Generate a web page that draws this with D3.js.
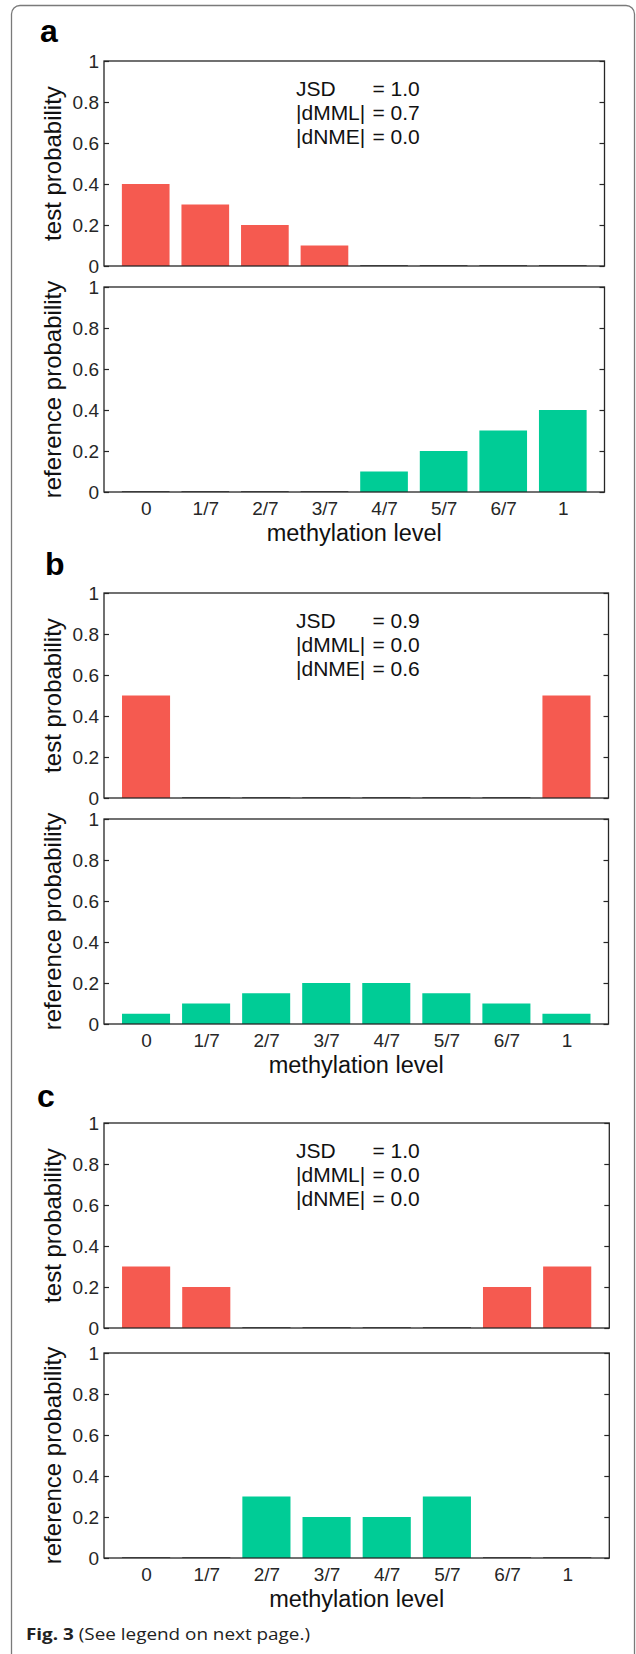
<!DOCTYPE html>
<html>
<head>
<meta charset="utf-8">
<script src="https://cdn.jsdelivr.net/npm/d3@7"></script>
<style>
  body { margin: 0; background: #fff; }
  svg { display: block; }
</style>
</head>
<body>
<svg id="fig" width="636" height="1654"></svg>
<script>
// methylation levels (x categories)
const levels = ["0", "1/7", "2/7", "3/7", "4/7", "5/7", "6/7", "1"];
const yTicks = [0, 0.2, 0.4, 0.6, 0.8, 1];
const yTickLabels = ["0", "0.2", "0.4", "0.6", "0.8", "1"];

// panel a
const testA = [0.4, 0.3, 0.2, 0.1, 0, 0, 0, 0];
const refA  = [0, 0, 0, 0, 0.1, 0.2, 0.3, 0.4];
// panel b
const testB = [0.5, 0, 0, 0, 0, 0, 0, 0.5];
const refB  = [0.05, 0.1, 0.15, 0.2, 0.2, 0.15, 0.1, 0.05];
// panel c
const testC = [0.3, 0.2, 0, 0, 0, 0, 0.2, 0.3];
const refC  = [0, 0, 0.3, 0.2, 0.2, 0.3, 0, 0];

const panelLabels = ["a", "b", "c"];
const jsd  = ["1.0", "0.9", "1.0"];
const dMML = ["0.7", "0.0", "0.0"];
const dNME = ["0.0", "0.6", "0.0"];

const testColor = "#f55a50";
const refColor = "#00cc96";
const axisColor = "#262626";
const font = "'Liberation Sans', Arial, Helvetica, sans-serif";

// layout of each panel (pixel positions)
const layout = [
  {lx: 40, ly: 42,   testTop: 61,   refTop: 287,  right: 604.5},
  {lx: 45, ly: 575,  testTop: 593,  refTop: 819,  right: 608.5},
  {lx: 37, ly: 1107, testTop: 1123, refTop: 1353, right: 609.3}
];
const left = 104, plotH = 205;

const svg = d3.select("#fig");

// outer page frame (open at the bottom)
svg.append("path")
  .attr("d", "M11.5,1660 V14 A8.5,8.5 0 0 1 20,5.5 H626 A8.5,8.5 0 0 1 634.5,14 V1660")
  .attr("fill", "none")
  .attr("stroke", "#7a7a7a")
  .attr("stroke-width", 1.3);

const tests = [testA, testB, testC];
const refs = [refA, refB, refC];

function drawPlot(parent, values, top, right, color, ylabel, showX) {
  const g = parent.append("g");
  const x = d3.scaleLinear().domain([0.3, 8.7]).range([left, right]);
  const y = d3.scaleLinear().domain([0, 1]).range([top + plotH, top]);
  const bw = (x(1.8) - x(1));

  g.selectAll("rect.bar")
    .data(values)
    .enter()
    .append("rect")
    .attr("class", "bar")
    .attr("x", (d, i) => x(i + 1) - bw / 2)
    .attr("width", bw)
    .attr("y", d => d > 0 ? y(d) : y(0) - 1)
    .attr("height", d => d > 0 ? y(0) - y(d) : 1)
    .attr("fill", d => d > 0 ? color : "#666");

  // box
  g.append("rect")
    .attr("x", left).attr("y", top)
    .attr("width", right - left).attr("height", plotH)
    .attr("fill", "none")
    .attr("stroke", axisColor)
    .attr("stroke-width", 1.3);

  const yl = g.append("g")
    .attr("transform", `translate(${left},0)`)
    .call(d3.axisLeft(y).tickValues(yTicks)
      .tickFormat((d, i) => yTickLabels[i])
      .tickSizeInner(-5).tickSizeOuter(0).tickPadding(5));
  yl.select(".domain").remove();
  yl.selectAll("line").attr("stroke", axisColor).attr("stroke-width", 1.2);
  yl.selectAll("text").attr("font-family", font).attr("font-size", 19).attr("fill", axisColor);

  const yr = g.append("g")
    .attr("transform", `translate(${right},0)`)
    .call(d3.axisRight(y).tickValues(yTicks).tickFormat("")
      .tickSizeInner(-5).tickSizeOuter(0));
  yr.select(".domain").remove();
  yr.selectAll("line").attr("stroke", axisColor).attr("stroke-width", 1.2);

  g.append("text")
    .attr("transform", `translate(61,${top + plotH / 2}) rotate(-90)`)
    .attr("text-anchor", "middle")
    .attr("font-family", font)
    .attr("font-size", 24)
    .attr("fill", "#111")
    .text(ylabel);

  if (showX) {
    const xa = g.append("g")
      .attr("transform", `translate(0,${top + plotH})`)
      .call(d3.axisBottom(x).tickValues(d3.range(1, 9))
        .tickFormat(i => levels[i - 1])
        .tickSize(0).tickPadding(10));
    xa.select(".domain").remove();
    xa.selectAll("text").attr("font-family", font).attr("font-size", 19).attr("fill", axisColor);

    g.append("text")
      .attr("x", (left + right) / 2)
      .attr("y", top + plotH + 49)
      .attr("text-anchor", "middle")
      .attr("font-family", font)
      .attr("font-size", 23.5)
      .attr("fill", "#111")
      .text("methylation level");
  }
}

layout.forEach((p, k) => {
  const g = svg.append("g");

  g.append("text")
    .attr("x", p.lx).attr("y", p.ly)
    .attr("font-family", font)
    .attr("font-weight", "bold")
    .attr("font-size", 32)
    .text(panelLabels[k]);

  drawPlot(g, tests[k], p.testTop, p.right, testColor, "test probability", false);
  drawPlot(g, refs[k], p.refTop, p.right, refColor, "reference probability", true);

  const rows = [["JSD", jsd[k]], ["|dMML|", dMML[k]], ["|dNME|", dNME[k]]];
  rows.forEach((r, j) => {
    const by = p.testTop + 34.5 + j * 24;
    g.append("text").attr("x", 296).attr("y", by)
      .attr("font-family", font).attr("font-size", 21).attr("fill", "#111")
      .text(r[0]);
    g.append("text").attr("x", 372.5).attr("y", by)
      .attr("font-family", font).attr("font-size", 21).attr("fill", "#111")
      .text("= " + r[1]);
  });
});

// caption
const cap = svg.append("text")
  .attr("x", 26).attr("y", 1640)
  .attr("font-family", "'Open Sans', 'Noto Sans', sans-serif")
  .attr("font-size", 16.5)
  .attr("fill", "#222")
  .attr("textLength", 284)
  .attr("lengthAdjust", "spacingAndGlyphs");
cap.append("tspan").attr("font-weight", "bold").text("Fig. 3");
cap.append("tspan").text(" (See legend on next page.)");
</script>
</body>
</html>
